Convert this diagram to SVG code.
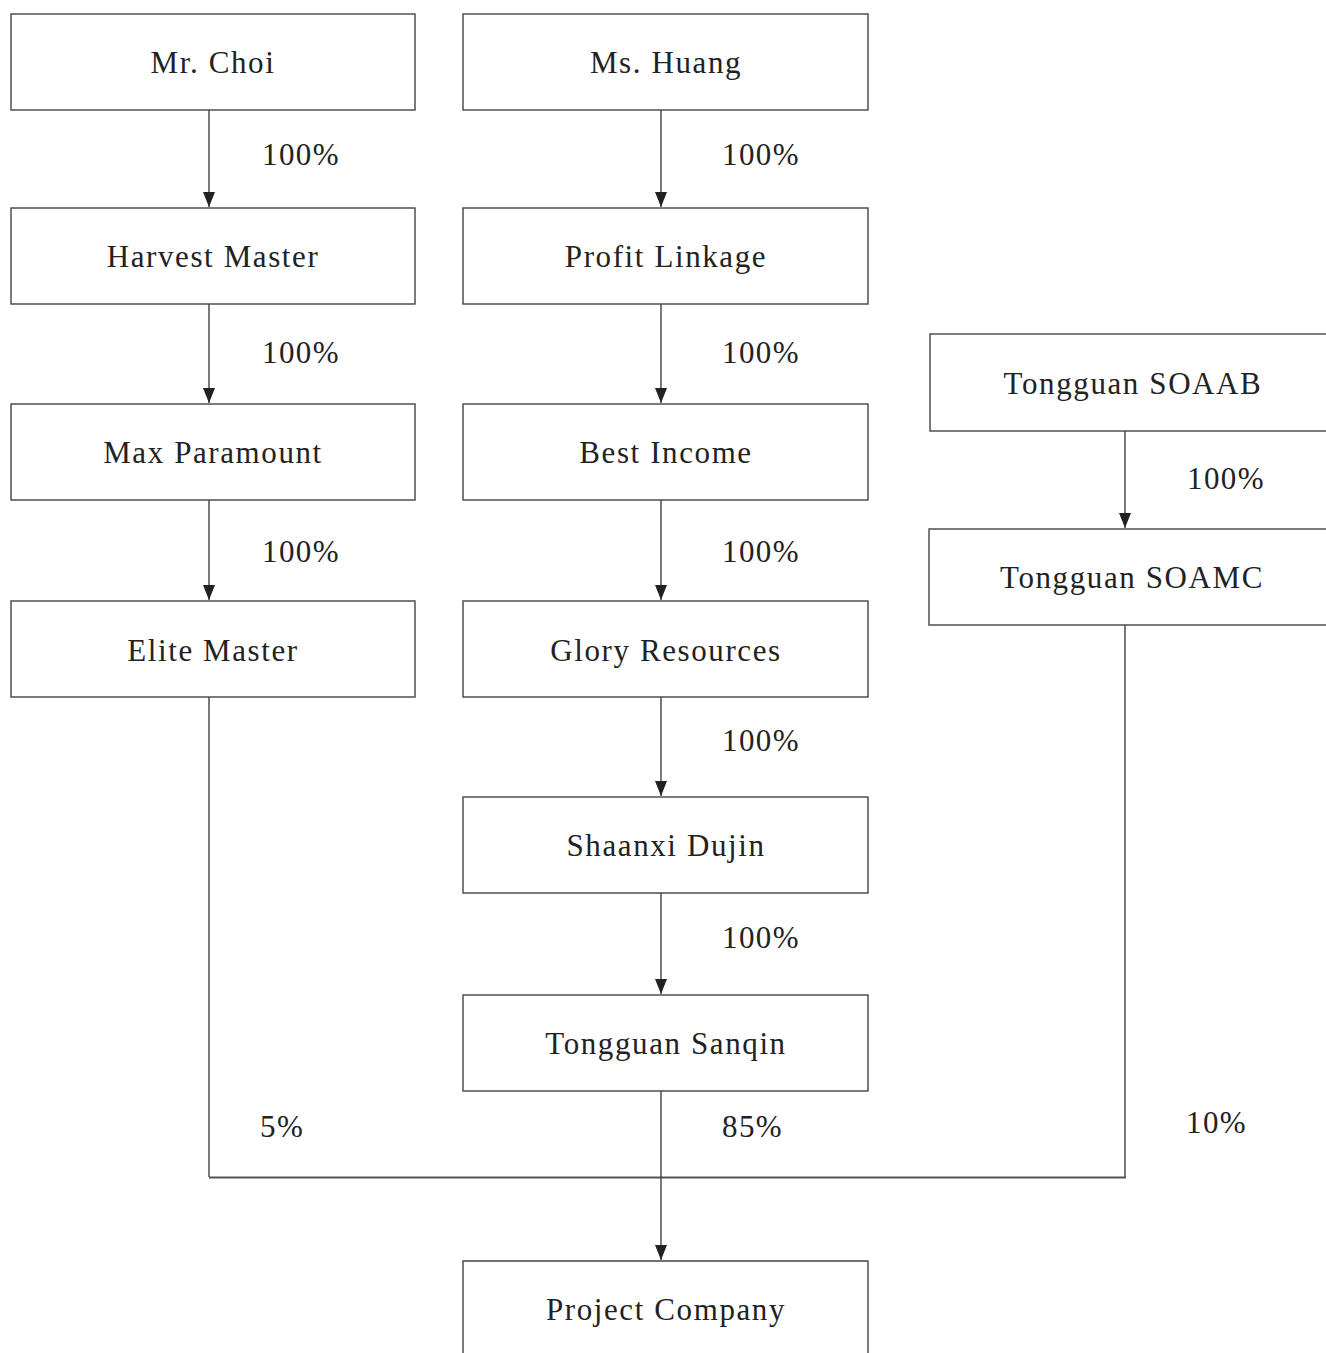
<svg xmlns="http://www.w3.org/2000/svg" width="1326" height="1353" viewBox="0 0 1326 1353">
<style>
.box{fill:#fff;stroke:#444;stroke-width:1.4}
.t{font-family:"Liberation Serif","Times New Roman",serif;font-size:31px;letter-spacing:1.6px;fill:#222;text-anchor:middle}
.p{font-family:"Liberation Serif","Times New Roman",serif;font-size:31px;letter-spacing:1.4px;fill:#222}
.c{fill:none;stroke:#333;stroke-width:1.3}
.h{fill:none;stroke:#555;stroke-width:1.8}
</style>
<defs>
<marker id="ah" markerWidth="15" markerHeight="12" refX="15" refY="6" orient="auto" markerUnits="userSpaceOnUse" viewBox="0 0 15 12">
<path d="M0,0 L15,6 L0,12 Z" fill="#222"/>
</marker>
</defs>
<rect width="1326" height="1353" fill="#fff"/>
<g id="connectors">
<line class="c" x1="209" y1="110" x2="209" y2="207" marker-end="url(#ah)"/>
<line class="c" x1="209" y1="304" x2="209" y2="403" marker-end="url(#ah)"/>
<line class="c" x1="209" y1="500" x2="209" y2="600" marker-end="url(#ah)"/>
<line class="c" x1="661" y1="110" x2="661" y2="207" marker-end="url(#ah)"/>
<line class="c" x1="661" y1="304" x2="661" y2="403" marker-end="url(#ah)"/>
<line class="c" x1="661" y1="500" x2="661" y2="600" marker-end="url(#ah)"/>
<line class="c" x1="661" y1="697" x2="661" y2="796" marker-end="url(#ah)"/>
<line class="c" x1="661" y1="893" x2="661" y2="994" marker-end="url(#ah)"/>
<line class="c" x1="1125" y1="431" x2="1125" y2="528" marker-end="url(#ah)"/>
<polyline class="c" points="209,697 209,1177"/>
<polyline class="c" points="1125,625 1125,1177"/>
<line class="h" x1="209" y1="1177.5" x2="1126" y2="1177.5"/>
<line class="c" x1="661" y1="1091" x2="661" y2="1260" marker-end="url(#ah)"/>
<text class="p" x="262" y="165">100%</text>
<text class="p" x="262" y="363">100%</text>
<text class="p" x="262" y="562">100%</text>
<text class="p" x="722" y="165">100%</text>
<text class="p" x="722" y="363">100%</text>
<text class="p" x="722" y="562">100%</text>
<text class="p" x="722" y="751">100%</text>
<text class="p" x="722" y="948">100%</text>
<text class="p" x="1187" y="489">100%</text>
<text class="p" x="260" y="1137">5%</text>
<text class="p" x="722" y="1137">85%</text>
<text class="p" x="1186" y="1133">10%</text>
</g>
<g id="mr-choi"><rect class="box" x="11" y="14" width="404" height="96"/><text class="t" x="213" y="73">Mr. Choi</text></g>
<g id="harvest-master"><rect class="box" x="11" y="208" width="404" height="96"/><text class="t" x="213" y="267">Harvest Master</text></g>
<g id="max-paramount"><rect class="box" x="11" y="404" width="404" height="96"/><text class="t" x="213" y="463">Max Paramount</text></g>
<g id="elite-master"><rect class="box" x="11" y="601" width="404" height="96"/><text class="t" x="213" y="661">Elite Master</text></g>
<g id="ms-huang"><rect class="box" x="463" y="14" width="405" height="96"/><text class="t" x="666" y="73">Ms. Huang</text></g>
<g id="profit-linkage"><rect class="box" x="463" y="208" width="405" height="96"/><text class="t" x="666" y="267">Profit Linkage</text></g>
<g id="best-income"><rect class="box" x="463" y="404" width="405" height="96"/><text class="t" x="666" y="463">Best Income</text></g>
<g id="glory-resources"><rect class="box" x="463" y="601" width="405" height="96"/><text class="t" x="666" y="661">Glory Resources</text></g>
<g id="shaanxi-dujin"><rect class="box" x="463" y="797" width="405" height="96"/><text class="t" x="666" y="856">Shaanxi Dujin</text></g>
<g id="tongguan-sanqin"><rect class="box" x="463" y="995" width="405" height="96"/><text class="t" x="666" y="1054">Tongguan Sanqin</text></g>
<g id="project-company"><path class="box" d="M463,1353 L463,1261 L868,1261 L868,1353"/><text class="t" x="666" y="1320">Project Company</text></g>
<g id="tongguan-soaab"><rect class="box" x="930" y="334" width="410" height="97"/><text class="t" x="1133" y="394">Tongguan SOAAB</text></g>
<g id="tongguan-soamc"><rect class="box" x="929" y="529" width="410" height="96"/><text class="t" x="1132" y="588">Tongguan SOAMC</text></g>
</svg>
